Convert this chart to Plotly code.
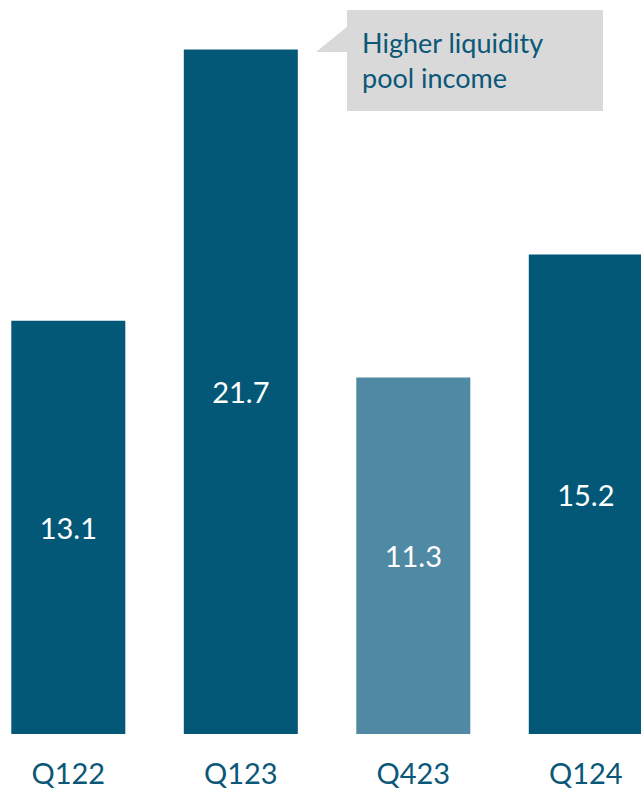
import plotly.graph_objects as go

# Quarterly values
quarters = ["Q122", "Q123", "Q423", "Q124"]
values = [13.1, 21.7, 11.3, 15.2]
value_labels = ["13.1", "21.7", "11.3", "15.2"]
bar_colors = ["#035877", "#035877", "#5089A3", "#035877"]
callout_text = "Higher liquidity<br>pool income"

W, H = 641, 789
PLOT_H = 734  # plot area height in px (bottom margin holds the tick labels)
FONT = "Lato"
TEXT_COLOR = "#0B5777"


def px(x):
    return x / W


def py(y):
    return 1 - y / PLOT_H


fig = go.Figure(
    go.Bar(
        x=quarters,
        y=values,
        marker=dict(color=bar_colors, line=dict(width=0)),
        text=value_labels,
        textposition="inside",
        insidetextanchor="middle",
        textangle=0,
        textfont=dict(family=FONT, size=29, color="white"),
        hoverinfo="skip",
    )
)

# Callout box with a pointer toward the Q123 bar
fig.add_shape(
    type="rect", xref="paper", yref="paper",
    x0=px(347), x1=px(603), y0=py(111), y1=py(10),
    fillcolor="#D9D9D9", line=dict(width=0), layer="above",
)
fig.add_shape(
    type="path", xref="paper", yref="paper",
    path=f"M {px(316)},{py(52)} L {px(348)},{py(26)} L {px(348)},{py(52)} Z",
    fillcolor="#D9D9D9", line=dict(width=0), layer="above",
)
fig.add_annotation(
    xref="paper", yref="paper",
    x=px(360), y=py(24),
    xanchor="left", yanchor="top", align="left",
    text=callout_text, showarrow=False,
    font=dict(family=FONT, size=27, color=TEXT_COLOR),
)

fig.update_layout(
    width=W, height=H,
    margin=dict(l=0, r=0, t=0, b=H - PLOT_H),
    paper_bgcolor="white", plot_bgcolor="white",
    bargap=0.339,
    showlegend=False,
    xaxis=dict(
        range=[-0.396, 3.320],
        showgrid=False, zeroline=False, showline=False, ticks="",
        tickfont=dict(family=FONT, size=29, color=TEXT_COLOR),
        ticklabelstandoff=20,
    ),
    yaxis=dict(
        range=[0, 23.27],
        visible=False, showgrid=False, zeroline=False,
    ),
    uniformtext=dict(mode=False),
)

fig.write_html("out.html")
